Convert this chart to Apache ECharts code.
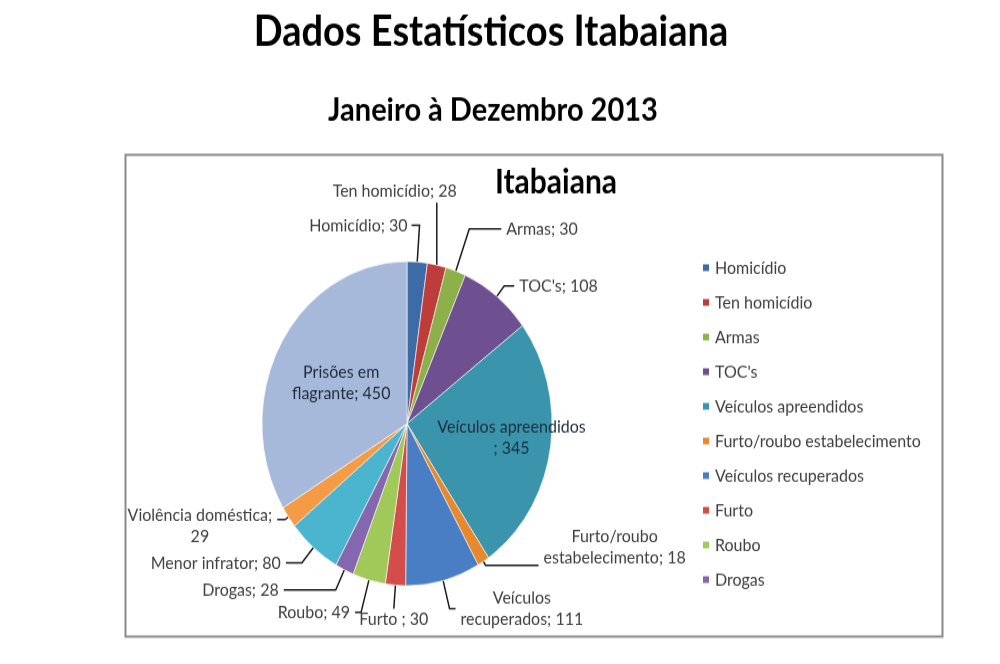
<!DOCTYPE html>
<html>
<head>
<meta charset="utf-8">
<script src="https://cdn.jsdelivr.net/npm/echarts@6/dist/echarts.min.js"></script>
<style>
  html, body { margin: 0; padding: 0; background: #fff; width: 1000px; height: 664px; }
  /* a imagem original está esticada na vertical */
  #wrap { width: 1000px; height: 594px; transform: scaleY(1.1178); transform-origin: 0 0; }
  #chart { width: 1000px; height: 594px; }
</style>
</head>
<body>
<div id="wrap"><div id="chart"></div></div>
<script>
// dados
var categorias = ['Homicídio', 'Ten homicídio', 'Armas', "TOC's", 'Veículos apreendidos',
  'Furto/roubo estabelecimento', 'Veículos recuperados', 'Furto', 'Roubo', 'Drogas',
  'Menor infrator', 'Violência doméstica', 'Prisões em flagrante'];
var valores = [30, 28, 30, 108, 345, 18, 111, 30, 49, 28, 80, 29, 450];
// rótulos como aparecem no gráfico
var rotulos = ['Homicídio; {c}', 'Ten homicídio; {c}', 'Armas; {c}', "TOC's; {c}", 'Veículos apreendidos\n; {c}',
  'Furto/roubo\nestabelecimento; {c}', 'Veículos\nrecuperados; {c}', 'Furto ; {c}', 'Roubo; {c}', 'Drogas; {c}',
  'Menor infrator; {c}', 'Violência doméstica;\n{c}', 'Prisões em\nflagrante; {c}'];
var cores = ['#3C6BA5', '#BE3D3B', '#8DB04A', '#6E5091', '#3A95AC', '#E8892E', '#4A7EC4',
  '#D34D4A', '#A1C95A', '#8467AE', '#4BB4CF', '#F59A45', '#A6B9DA'];
// só os 10 primeiros aparecem na legenda
var legenda = categorias.slice(0, 10);

// estilo das linhas de chamada: [length, length2, modo, dy, dx]
var chamadas = [[33, 8, 'esq'], [57, 0, 'cima'], [40, 32], [12, 10], [0, 0, 'dentro', 0, 30],
  [4, 53, '', -16], [26, 6], [20, 0, 'baixo'], [30, 6], [20, 52], [18, 16], [4, 8, '', 6], [0, 0, 'dentro']];

var myChart = echarts.init(document.getElementById('chart'));
var fonte = 'Lato, "Open Sans", sans-serif';

//cada linha do rotulo centralizada, como no Excel
function textoRotulo(p) {
  var txt = rotulos[p.dataIndex].replace('{c}', p.value);
  return txt.split('\n').map(function (l) { return '{l|' + l + '}'; }).join('\n');
}

var dados = [];
for (var i = 0; i < categorias.length; i++) {
  var c = chamadas[i];
  var item = { name: categorias[i], value: valores[i], itemStyle: { color: cores[i] },
    labelLine: { length: c[0], length2: c[1] } };
  if (c[2] == 'dentro') {
    item.label = { position: 'inside', color: '#1d2c3d' };
    item.labelLine = { show: false };
  }
  dados.push(item);
}

//reposiciona alguns rotulos como no Excel
function ajustaRotulo(p) {
  var c = chamadas[p.dataIndex];
  var modo = c[2];
  var pts = p.labelLinePoints;
  if (modo == 'dentro') return { dx: c[4] || 0 };
  if (!pts) return;
  if (modo == 'esq') {
    var fim = [2 * pts[1][0] - pts[2][0], pts[2][1]];
    return { x: fim[0] - 4, y: fim[1], align: 'right', verticalAlign: 'middle',
      labelLinePoints: [pts[0], pts[1], fim] };
  }
  if (modo == 'cima') {
    var topo = [pts[0][0], pts[1][1]];
    return { x: topo[0] + 20, y: topo[1] - 1, align: 'right', verticalAlign: 'bottom',
      labelLinePoints: [pts[0], topo, topo] };
  }
  if (modo == 'baixo') {
    return { x: pts[2][0], y: pts[2][1] + 1, align: 'center', verticalAlign: 'top' };
  }
  if (c[3]) return { dy: c[3] };
}

var option = {
  backgroundColor: '#fff',
  title: [{
    text: 'Dados Estatísticos Itabaiana',
    left: 486, top: 5, textAlign: 'center',
    textStyle: { fontFamily: fonte, fontSize: 38, fontWeight: 'bold', color: '#000' }
  }, {
    text: 'Janeiro à Dezembro 2013',
    left: 488, top: 79, textAlign: 'center',
    textStyle: { fontFamily: fonte, fontSize: 29, fontWeight: 'bold', color: '#000' }
  }, {
    text: 'Itabaiana',
    left: 551, top: 143, textAlign: 'center',
    textStyle: { fontFamily: fonte, fontSize: 30, fontWeight: 'bold', color: '#000' }
  }],
  graphic: [{
    type: 'rect', left: 123, top: 136, z: -1,
    shape: { width: 817, height: 431 },
    style: { fill: 'none', stroke: '#8a8a8a', lineWidth: 2 }
  }],
  legend: {
    orient: 'vertical', left: 696, top: 226,
    data: legenda,
    icon: 'rect', itemWidth: 8, itemHeight: 8, itemGap: 14,
    textStyle: { fontFamily: fonte, fontSize: 16, color: '#404040', lineHeight: 17 }
  },
  series: [{
    name: 'Itabaiana',
    type: 'pie',
    center: [407, 379],
    radius: 145,
    startAngle: 90,
    clockwise: true,
    animation: false,
    legendHoverLink: false,
    avoidLabelOverlap: false,
    itemStyle: { borderColor: '#fff', borderWidth: 0.6 },
    label: {
      fontFamily: fonte, fontSize: 16, color: '#404040', lineHeight: 19,
      formatter: textoRotulo,
      rich: { l: { align: 'center', fontFamily: fonte, fontSize: 16, lineHeight: 19 } }
    },
    labelLine: { lineStyle: { color: '#1a1a1a', width: 1.5 } },
    labelLayout: ajustaRotulo,
    data: dados
  }]
};
myChart.setOption(option);
</script>
</body>
</html>
